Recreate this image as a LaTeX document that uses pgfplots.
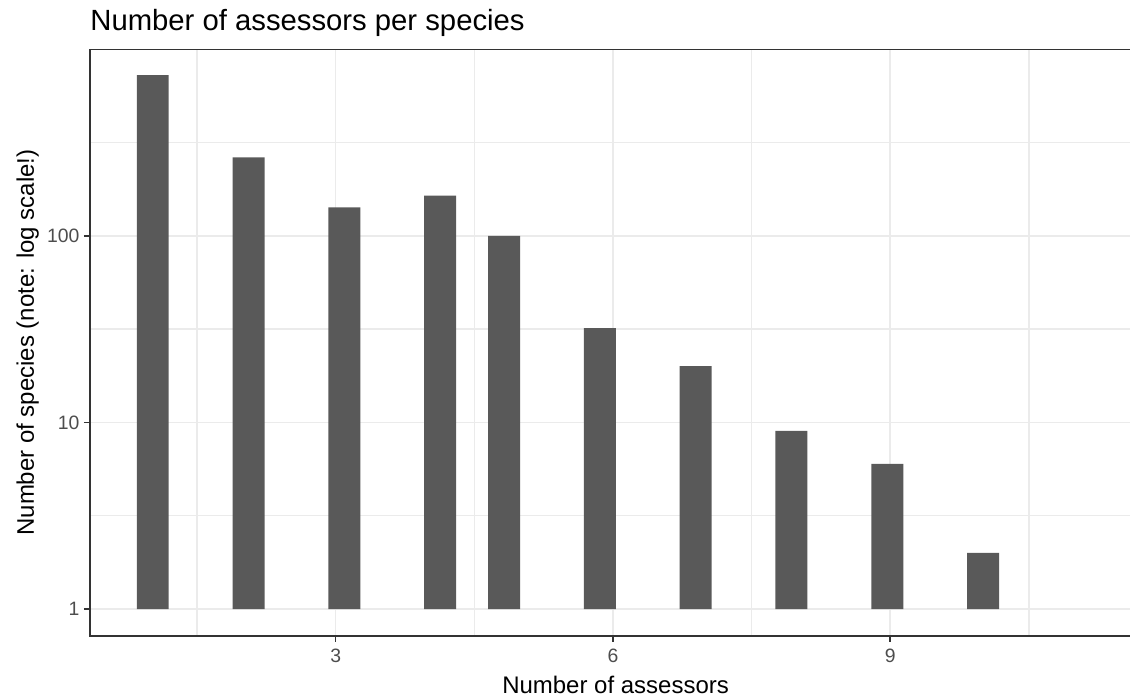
\documentclass[border=0pt]{standalone}
\usepackage{fontspec}
\setmainfont{Liberation Sans}
\usepackage{pgfplots}
\pgfplotsset{compat=1.18}
\definecolor{barfill}{HTML}{595959}
\definecolor{gridc}{HTML}{EBEBEB}
\definecolor{borderc}{HTML}{333333}
\definecolor{tickc}{HTML}{4D4D4D}
\begin{document}
\begin{tikzpicture}
\begin{axis}[
  scale only axis, width=472.73pt, height=266.45pt,
  xmin=0.342, xmax=11.594,
  ymode=log, ymin=0.7196, ymax=995.4,
  axis line style={draw=none},
  xtick={3,6,9}, ytick={1,10,100}, yticklabels={1,10,100},
  minor xtick={1.5,4.5,7.5,10.5}, minor ytick={3.1623,31.623,316.23},
  grid=both,
  major grid style={gridc, line width=0.75pt},
  minor grid style={gridc, line width=0.55pt},
  tick align=outside, xtick pos=left, ytick pos=left,
  major tick length=2.75pt, minor tick length=0pt,
  every tick/.style={borderc, line width=0.7pt},
  /pgf/number format/assume math mode=true,
  ticklabel style={font=\fontsize{8.8}{10}\selectfont, text=tickc},
  xticklabel style={anchor=base, inner sep=0pt, yshift=-9.5pt},
  yticklabel style={anchor=east, inner sep=0pt, xshift=-1.9pt},
]
\addplot[ybar, bar width=0.3455, bar shift=0pt, fill=barfill, draw=none] coordinates {
(1.021,725) (2.058,263) (3.094,142) (4.131,164) (4.822,100)
(5.858,32) (6.895,20) (7.931,9) (8.968,6) (10.004,2)};
\coordinate (SW) at (rel axis cs:0,0);
\coordinate (NE) at (rel axis cs:1,1);
\coordinate (NW) at (rel axis cs:0,1);
\coordinate (SE) at (rel axis cs:1,0);
\coordinate (ML) at (rel axis cs:0,0.5);
\end{axis}
\draw[borderc, line width=0.9pt] (NE) -- (NW) -- (SW) -- (SE);
\node[anchor=base west, inner sep=0pt, font=\fontsize{13.3}{16}\selectfont] at ([yshift=8.5pt]NW) {Number of assessors per species};
\node[anchor=base, inner sep=0pt, font=\fontsize{10.9}{13}\selectfont] at ([shift={(238.9pt,-26.05pt)}]SW) {Number of assessors};
\node[anchor=base, rotate=90, inner sep=0pt, font=\fontsize{10.9}{13}\selectfont] at ([xshift=-25.5pt]ML) {Number of species (note: log scale!)};
\pgfresetboundingbox
\path[use as bounding box] ([shift={(-40.9pt,-27.4pt)}]SW) rectangle ([yshift=22.5pt]NE);
\end{tikzpicture}
\end{document}
